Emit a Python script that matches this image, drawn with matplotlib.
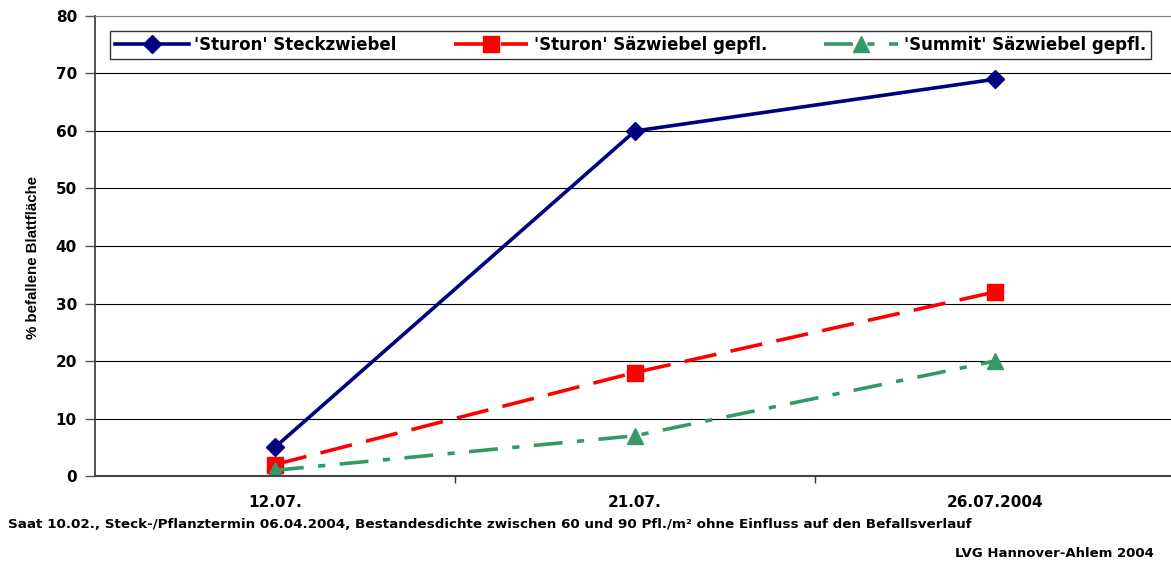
import matplotlib.pyplot as plt

# data
dates = ['12.07.', '21.07.', '26.07.2004']
steck = [5, 60, 69]
saez_sturon = [2, 18, 32]
saez_summit = [1, 7, 20]

# the original uses widely spaced bold Arial; DejaVu Sans Bold gives similar widths
wide = ['DejaVu Sans']
plt.rcParams['font.family'] = ['Liberation Sans', 'DejaVu Sans']
plt.rcParams['font.weight'] = 'bold'

fig = plt.figure(figsize=(11.71, 5.65), dpi=100)
ax = fig.add_axes([0.0811, 0.1575, 0.9223, 0.8142])

x = range(len(dates))
ax.plot(x, steck, color='#000080', lw=2.6, marker='D', ms=9,
        label="'Sturon' Steckzwiebel")
ax.plot(x, saez_sturon, color='#ff0000', lw=2.6, marker='s', ms=11,
        dashes=(9, 4), label="'Sturon' Säzwiebel gepfl.")
ax.plot(x, saez_summit, color='#339966', lw=2.6, marker='^', ms=11,
        dashes=(8, 4, 2, 4), label="'Summit' Säzwiebel gepfl.")

ax.set_xlim(-0.5, 2.5)
ax.set_ylim(0, 80)
ax.set_yticks(range(0, 81, 10))
ax.yaxis.grid(True, color='black', lw=0.8)
ax.set_axisbelow(True)

# category labels centred, ticks between categories
ax.set_xticks([0.5, 1.5, 2.5])
ax.set_xticklabels([])
ax.set_xticks(list(x), minor=True)
ax.set_xticklabels(dates, minor=True, fontsize=11, fontweight='bold', family=wide)
ax.tick_params(axis='x', which='minor', length=0, pad=14)
ax.tick_params(axis='x', which='major', length=5, width=1, color='#333333')
ax.tick_params(axis='y', length=7, width=1, color='#555555', labelsize=11, pad=6)
for t in ax.get_yticklabels():
    t.set_family(wide)

ax.spines['right'].set_visible(False)
ax.spines['top'].set_color('#888888')
ax.spines['left'].set_color('#333333')
ax.spines['bottom'].set_color('#444444')
ax.spines['left'].set_linewidth(1.2)
ax.spines['bottom'].set_linewidth(1.5)

ax.set_ylabel('% befallene Blattfläche', fontsize=10.8, fontweight='bold')
ax.yaxis.set_label_coords(-0.051, 0.475)

leg = ax.legend(loc='upper left', bbox_to_anchor=(0.0065, 0.985), ncol=3,
                prop={'family': wide, 'size': 12, 'weight': 'bold'},
                frameon=True, fancybox=False, edgecolor='black',
                handlelength=4.4, columnspacing=3.45, borderpad=0.3,
                handletextpad=0.35)
leg.get_frame().set_linewidth(1.0)

fig.text(0.007, 0.072, 'Saat 10.02., Steck-/Pflanztermin 06.04.2004, Bestandesdichte '
         'zwischen 60 und 90 Pfl./m² ohne Einfluss auf den Befallsverlauf',
         fontsize=9.7, fontweight='bold', ha='left', va='center', family=wide)
fig.text(0.985, 0.021, 'LVG Hannover-Ahlem 2004', fontsize=9.5,
         fontweight='bold', ha='right', va='center', family=wide)

fig.savefig('out.png', dpi=100)
